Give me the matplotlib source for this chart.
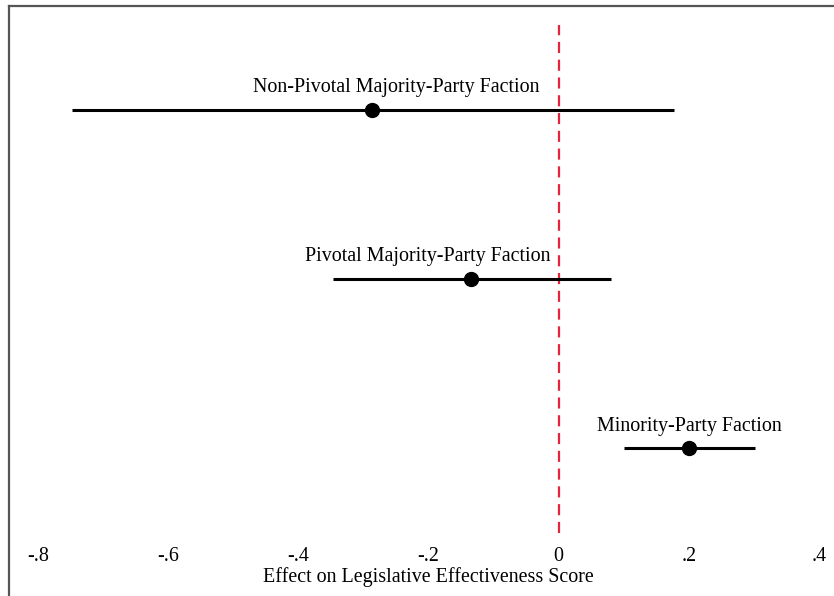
import matplotlib.pyplot as plt
from matplotlib.lines import Line2D

# Estimates with 95% intervals, one row per faction
factions = ["Non-Pivotal Majority-Party Faction",
            "Pivotal Majority-Party Faction",
            "Minority-Party Faction"]
estimates = [-0.287, -0.134, 0.200]
ci_low = [-0.748, -0.347, 0.100]
ci_high = [0.177, 0.081, 0.302]
rows = [3, 2, 1]

xticks = [-0.8, -0.6, -0.4, -0.2, 0.0, 0.2, 0.4]
xtick_labels = ["-.8", "-.6", "-.4", "-.2", "0", ".2", ".4"]

# horizontal shift of each label from its point, in pixels
label_shift = [24, -44, 1]

plt.rcParams["font.family"] = ["Liberation Serif", "DejaVu Serif"]
FS = 14.4

W, H = 834, 596
fig = plt.figure(figsize=(W / 100, H / 100), dpi=100)
ax = fig.add_axes([38 / W, 1 - 533 / H, (819 - 38) / W, (533 - 25) / H])

ax.axvline(0, color="#e8243c", lw=1.6, dashes=(5, 3), zorder=1)

for i in range(len(factions)):
    ax.plot([ci_low[i], ci_high[i]], [rows[i], rows[i]], color="black",
            lw=2.2, solid_capstyle="butt", zorder=2)
    ax.plot(estimates[i], rows[i], "o", color="black", ms=10, zorder=3)
    ax.annotate(factions[i], (estimates[i], rows[i]),
                xytext=(label_shift[i] * 0.72, 16), textcoords="offset points",
                ha="center", va="center", fontsize=FS)

ax.set_xlim(-0.8, 0.4)
ax.set_ylim(0.5, 3.5)
ax.set_xticks(xticks)
ax.set_xticklabels(xtick_labels, fontsize=FS)
ax.set_yticks([])
ax.tick_params(axis="x", length=0, pad=10)
for s in ax.spines.values():
    s.set_visible(False)
ax.set_xlabel("Effect on Legislative Effectiveness Score", fontsize=FS, labelpad=1)

# gray frame along the left and top edges
fig.add_artist(Line2D([9 / W, 9 / W], [0, 1 - 6 / H], color="#555555", lw=1.6))
fig.add_artist(Line2D([9 / W, 1], [1 - 6 / H, 1 - 6 / H], color="#555555", lw=1.6))

fig.savefig("out.png", dpi=100)
